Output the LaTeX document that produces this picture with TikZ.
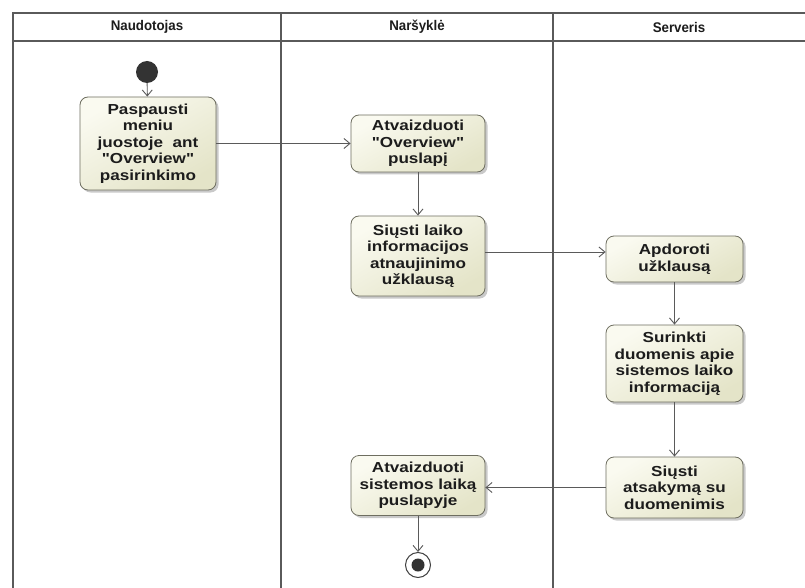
\documentclass[tikz,border=0pt]{standalone}
\usepackage{fontspec}
\setmainfont{Liberation Sans}
\newfontfamily\boxfont[FakeStretch=1.18]{Liberation Sans}
\newfontfamily\headfont[FakeStretch=0.95]{Liberation Sans}
\usetikzlibrary{arrows.meta,shadows,positioning}
\definecolor{lanegray}{HTML}{5A5A5A}
\definecolor{actfillA}{HTML}{FAFAF0}
\definecolor{actfillB}{HTML}{E4E4C8}
\definecolor{actborder}{HTML}{6E6E60}
\definecolor{inktext}{HTML}{1C1C1C}
\tikzset{
  lane/.style={draw=lanegray, line width=1.8pt},
  action/.style={draw=actborder, line width=0.8pt, rounded corners=8pt,
    top color=actfillA, bottom color=actfillB, shading angle=30,
    drop shadow={shadow xshift=2.5pt, shadow yshift=-2.5pt, fill=black!35, opacity=0.6},
    align=center, inner sep=0pt, text=inktext,
    font=\boxfont\bfseries\fontsize{14.5}{16.5}\selectfont},
  flow/.style={draw=lanegray, line width=0.9pt, -{Straight Barb[length=6pt,width=10pt,line width=0.9pt]}},
  lanetitle/.style={font=\headfont\bfseries\fontsize{14}{16}\selectfont, text=inktext},
  startdot/.style={circle, fill=black!80, minimum size=22pt, inner sep=0pt},
  endring/.style={circle, draw=black!75, line width=1pt, fill=white, minimum size=25pt, inner sep=0pt},
  enddot/.style={circle, fill=black!80, minimum size=13pt, inner sep=0pt}
}
\begin{document}
\begin{tikzpicture}[x=1pt,y=-1pt]
  \useasboundingbox (0,0) rectangle (805,588);
  \fill[white] (0,0) rectangle (805,588);

  % swimlane frame
  \draw[lane] (805,13) -- (13,13) -- (13,588);
  \draw[lane] (13,41) -- (805,41);
  \draw[lane] (281,13) -- (281,588);
  \draw[lane] (553,13) -- (553,588);

  \node[lanetitle] (t1) at (147,27) {Naudotojas};
  \node[lanetitle] (t2) at (417,27) {Naršyklė};
  \node[lanetitle] (t3) at (679,27) {Serveris};

  % activities
  \node[startdot] (start) at (147,72) {};
  \node[action, minimum width=136pt, minimum height=93pt] (a) at (148,143.5)
    {Paspausti\\meniu\\juostoje\ \ ant\\"Overview"\\pasirinkimo};
  \node[action, minimum width=134pt, minimum height=57pt] (b) at (418,143.5)
    {Atvaizduoti\\"Overview"\\puslapį};
  \node[action, minimum width=134pt, minimum height=80pt] (c) at (418,256)
    {Siųsti laiko\\informacijos\\atnaujinimo\\užklausą};
  \node[action, minimum width=137pt, minimum height=46pt] (d) at (674.5,259)
    {Apdoroti\\užklausą};
  \node[action, minimum width=137pt, minimum height=77pt] (e) at (674.5,363.5)
    {Surinkti\\duomenis apie\\sistemos laiko\\informaciją};
  \node[action, minimum width=137pt, minimum height=61pt] (f) at (674.5,487.5)
    {Siųsti\\atsakymą su\\duomenimis};
  \node[action, minimum width=134pt, minimum height=60pt] (g) at (418,485.5)
    {Atvaizduoti\\sistemos laiką\\puslapyje};
  \node[endring] (finish) at (418,565) {};
  \node[enddot] at (finish.center) {};

  % control flows
  \draw[flow] (start) -- (a);
  \draw[flow] (a.east |- b.west) -- (b.west);
  \draw[flow] (b) -- (c);
  \draw[flow] (c.east |- 0,252) -- (d.west |- 0,252);
  \draw[flow] (d) -- (e);
  \draw[flow] (e) -- (f);
  \draw[flow] (f.west) -- (g.east |- f.west);
  \draw[flow] (g) -- (finish);
\end{tikzpicture}
\end{document}
